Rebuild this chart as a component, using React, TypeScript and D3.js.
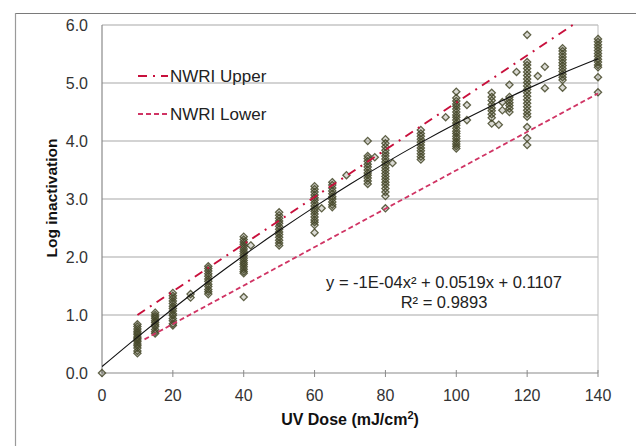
import React from "react";
import * as d3 from "d3";

// ---------- data ----------
const xTicks = [0, 20, 40, 60, 80, 100, 120, 140];
const yTicks = [0, 1, 2, 3, 4, 5, 6];

const clusterDose = [0, 10, 15, 20, 25, 30, 40, 50, 60, 65, 75, 80, 90, 100, 110, 115, 120, 130, 140];
const clusterLog: number[][] = [
  [0.0],
  [0.34, 0.38, 0.43, 0.47, 0.5, 0.54, 0.57, 0.6, 0.62, 0.66, 0.69, 0.72, 0.76, 0.8, 0.84],
  [0.68, 0.71, 0.75, 0.8, 0.83, 0.87, 0.9, 0.94, 0.97, 1.0, 1.04],
  [0.82, 0.85, 0.9, 0.94, 0.99, 1.02, 1.07, 1.11, 1.15, 1.2, 1.24, 1.29, 1.33, 1.38],
  [1.3, 1.36],
  [1.36, 1.4, 1.44, 1.49, 1.53, 1.58, 1.62, 1.67, 1.71, 1.76, 1.8, 1.84],
  [1.31, 1.72, 1.75, 1.79, 1.83, 1.87, 1.9, 1.94, 1.98, 2.02, 2.06, 2.1, 2.14, 2.18, 2.22, 2.26, 2.3, 2.35],
  [2.2, 2.24, 2.29, 2.34, 2.39, 2.43, 2.48, 2.53, 2.58, 2.62, 2.67, 2.72, 2.77],
  [2.42, 2.55, 2.6, 2.64, 2.69, 2.74, 2.79, 2.83, 2.88, 2.93, 2.98, 3.02, 3.07, 3.12, 3.17, 3.22],
  [2.86, 2.9, 2.95, 3.0, 3.04, 3.09, 3.14, 3.19, 3.24, 3.29],
  [3.26, 3.31, 3.36, 3.41, 3.45, 3.5, 3.55, 3.6, 3.65, 3.7, 3.74, 4.0],
  [2.84, 3.05, 3.12, 3.18, 3.24, 3.29, 3.34, 3.39, 3.44, 3.49, 3.54, 3.59, 3.64, 3.69, 3.74, 3.79, 3.84, 3.9, 3.96, 4.03],
  [3.68, 3.73, 3.78, 3.83, 3.88, 3.93, 3.98, 4.03, 4.08, 4.13, 4.19],
  [3.87, 3.91, 3.95, 3.99, 4.04, 4.08, 4.13, 4.17, 4.22, 4.27, 4.31, 4.36, 4.41, 4.45, 4.5, 4.55, 4.6, 4.64, 4.69, 4.74, 4.85],
  [4.3, 4.4, 4.46, 4.52, 4.57, 4.63, 4.7, 4.76, 4.83],
  [4.5, 4.56, 4.61, 4.66, 4.71, 4.76, 4.97],
  [3.93, 4.05, 4.24, 4.42, 4.47, 4.53, 4.59, 4.65, 4.71, 4.77, 4.83, 4.89, 4.95, 5.01, 5.07, 5.13, 5.19, 5.25, 5.31, 5.36, 5.83],
  [4.92, 5.05, 5.1, 5.15, 5.2, 5.25, 5.3, 5.35, 5.4, 5.45, 5.5, 5.55, 5.6],
  [4.84, 5.1, 5.27, 5.31, 5.36, 5.41, 5.46, 5.51, 5.56, 5.61, 5.66, 5.71, 5.76],
];

const looseDose = [42, 62, 69, 77, 82, 97, 103, 103, 112, 113, 113, 117, 123, 125, 125];
const looseLog = [2.2, 2.84, 3.41, 3.72, 3.62, 4.41, 4.62, 4.36, 4.28, 4.53, 4.67, 5.19, 5.12, 5.28, 4.91];

const fitCoef = [-1e-4, 0.0519, 0.1107];
const fitDoses = [0, 10, 20, 30, 40, 50, 60, 70, 80, 90, 100, 110, 120, 130, 140];

const upperDose = [10, 140];
const upperLog = [1.0, 6.29];
const lowerDose = [12, 140];
const lowerLog = [0.58, 4.82];

const legendLabels = ["NWRI Upper", "NWRI Lower"];
const equationText = ["y = -1E-04x² + 0.0519x + 0.1107", "R² = 0.9893"];

// ---------- layout ----------
const W = 636;
const H = 446;
const left = 102;
const right = 598;
const top = 25;
const bottom = 373;

const FONT = "Liberation Sans, Arial, Helvetica, sans-serif";
const UPPER_COLOR = "#c8103c";
const LOWER_COLOR = "#d03464";
const POINT_COLOR = "#454829";

export default function App() {
  const x = d3.scaleLinear().domain([0, 140]).range([left, right]);
  const y = d3.scaleLinear().domain([0, 6]).range([bottom, top]);

  const fitY = (d: number) => fitCoef[0] * d * d + fitCoef[1] * d + fitCoef[2];
  const fitLine = d3
    .line<number>()
    .x((d) => x(d))
    .y((d) => y(fitY(d)))
    .curve(d3.curveMonotoneX);

  const seg = d3
    .line<[number, number]>()
    .x((d) => x(d[0]))
    .y((d) => y(d[1]));

  const upperPts = upperDose.map((d, i) => [d, upperLog[i]] as [number, number]);
  const lowerPts = lowerDose.map((d, i) => [d, lowerLog[i]] as [number, number]);

  const pts: { d: number; v: number }[] = [];
  clusterDose.forEach((d, i) => clusterLog[i].forEach((v) => pts.push({ d, v })));
  looseDose.forEach((d, i) => pts.push({ d, v: looseLog[i] }));

  const r = 3.6;
  const diamond = `M0,${-r}L${r},0L0,${r}L${-r},0Z`;

  return (
    <svg
      width={W}
      height={H}
      style={{ position: "absolute", left: 0, top: 0, background: "#fff" }}
      fontFamily={FONT}
    >
      <defs>
        <clipPath id="plotclip">
          <rect x={left} y={top - 1} width={right - left + 1} height={bottom - top + 2} />
        </clipPath>
      </defs>
      <rect x={0} y={0} width={W} height={H} fill="#fff" />
      {/* outer frame */}
      <line x1={15} y1={13.5} x2={W} y2={13.5} stroke="#7a7a7a" strokeWidth={1.2} />
      <line x1={15.5} y1={13} x2={15.5} y2={H} stroke="#9a9a9a" strokeWidth={1.2} />

      {/* gridlines */}
      {yTicks.slice(1).map((t) => (
        <line key={t} x1={left} x2={right} y1={y(t)} y2={y(t)} stroke="#a8a8a8" strokeWidth={1.2} />
      ))}
      <line x1={right} x2={right} y1={top} y2={bottom} stroke="#bdbdbd" strokeWidth={1} />

      {/* axes */}
      <line x1={left} x2={left} y1={top} y2={bottom} stroke="#8a8a8a" strokeWidth={1.2} />
      <line x1={left} x2={right} y1={bottom} y2={bottom} stroke="#8a8a8a" strokeWidth={1.2} />
      {xTicks.map((t) => (
        <line key={t} x1={x(t)} x2={x(t)} y1={bottom - 3} y2={bottom + 4} stroke="#8a8a8a" strokeWidth={1} />
      ))}

      {/* tick labels */}
      {yTicks.map((t) => (
        <text key={t} x={88} y={y(t) + 5.5} textAnchor="end" fontSize={16} fill="#333">
          {t.toFixed(1)}
        </text>
      ))}
      {xTicks.map((t) => (
        <text key={t} x={x(t)} y={401} textAnchor="middle" fontSize={16} fill="#333">
          {t}
        </text>
      ))}

      {/* axis titles */}
      <text
        transform={`translate(57,198) rotate(-90)`}
        textAnchor="middle"
        fontSize={15.5}
        fontWeight="bold"
        fill="#111"
      >
        Log inactivation
      </text>
      <text x={350} y={425} textAnchor="middle" fontSize={16} fontWeight="bold" fill="#111">
        UV Dose (mJ/cm<tspan dy={-6} fontSize={11}>2</tspan><tspan dy={6}>)</tspan>
      </text>

      {/* data points */}
      {pts.map((p, i) => (
        <path
          key={i}
          d={diamond}
          transform={`translate(${x(p.d)},${y(p.v)})`}
          fill={POINT_COLOR}
          fillOpacity={0.2}
          stroke={POINT_COLOR}
          strokeWidth={1.3}
          strokeOpacity={0.85}
        />
      ))}

      <g clipPath="url(#plotclip)">
        {/* NWRI lines */}
        <path d={seg(upperPts) || ""} fill="none" stroke={UPPER_COLOR} strokeWidth={2} strokeDasharray="9,6,2,6" />
        <path d={seg(lowerPts) || ""} fill="none" stroke={LOWER_COLOR} strokeWidth={1.8} strokeDasharray="5,3" />

        {/* fit */}
        <path d={fitLine(fitDoses) || ""} fill="none" stroke="#111" strokeWidth={1.1} />
      </g>

      {/* legend */}
      <line x1={138} x2={168} y1={76} y2={76} stroke={UPPER_COLOR} strokeWidth={2} strokeDasharray="9,6,2,6" />
      <text x={170} y={82} fontSize={17} fill="#222">
        {legendLabels[0]}
      </text>
      <line x1={138} x2={168} y1={114} y2={114} stroke={LOWER_COLOR} strokeWidth={1.8} strokeDasharray="5,3" />
      <text x={170} y={120} fontSize={17} fill="#222">
        {legendLabels[1]}
      </text>

      {/* equation */}
      <text x={444} y={288} textAnchor="middle" fontSize={16.5} fill="#222">
        {equationText[0]}
      </text>
      <text x={444} y={308} textAnchor="middle" fontSize={16.5} fill="#222">
        {equationText[1]}
      </text>
    </svg>
  );
}
